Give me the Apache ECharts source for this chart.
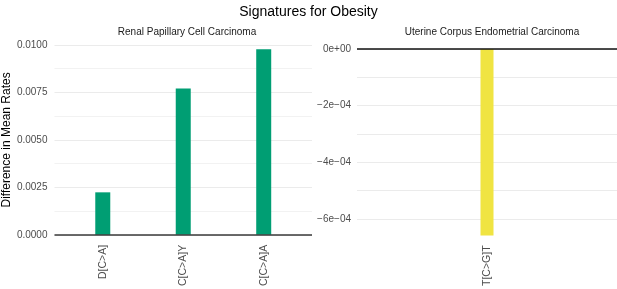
<!DOCTYPE html>
<html>
<head>
<meta charset="utf-8">
<script src="https://cdn.jsdelivr.net/npm/echarts@6/dist/echarts.min.js"></script>
<style>
  html, body { margin: 0; padding: 0; background: #fff; }
  #main { width: 617px; height: 289px; }
</style>
</head>
<body>
<div id="main"></div>
<script>
// data
var renalCats = ['D[C>A]', 'C[C>A]Y', 'C[C>A]A'];
var renalVals = [0.00224, 0.00771, 0.00977];
var uterineCats = ['T[C>G]T'];
var uterineVals = [-0.000659];
var leftTicks = [0, 0.0025, 0.005, 0.0075, 0.01];

var FONT = '"Liberation Sans", Arial, sans-serif';
var GRID_COLOR = '#ebebeb';

// R style scientific labels, e.g. -2e-04
function sciLabel(v) {
  if (Math.abs(v) < 1e-12) return '0e+00';
  var e = Math.floor(Math.log10(Math.abs(v)) + 1e-9);
  var m = Math.round(v / Math.pow(10, e));
  var sign = m < 0 ? '\u2212' : '';
  var es = (e < 0 ? '\u2212' : '+') + (Math.abs(e) < 10 ? '0' : '') + Math.abs(e);
  return sign + Math.abs(m) + 'e' + es;
}

var renalData = renalVals.map(function (v, i) { return [i + 1, v]; });

var chart = echarts.init(document.getElementById('main'));
var option = {
  animation: false,
  textStyle: { fontFamily: FONT },
  title: [
    {
      text: 'Signatures for Obesity',
      left: 'center', top: 0,
      textStyle: { fontSize: 14, fontWeight: 'normal', color: '#000', fontFamily: FONT }
    },
    {
      text: 'Renal Papillary Cell Carcinoma',
      left: 182, top: 22, textAlign: 'center',
      textStyle: { fontSize: 10, fontWeight: 'normal', color: '#1a1a1a', fontFamily: FONT }
    },
    {
      text: 'Uterine Corpus Endometrial Carcinoma',
      left: 487, top: 22, textAlign: 'center',
      textStyle: { fontSize: 10, fontWeight: 'normal', color: '#1a1a1a', fontFamily: FONT }
    }
  ],
  grid: [
    { left: 52, width: 260, top: 45, bottom: 53 },
    { left: 357, right: 0, top: 49, bottom: 53 }
  ],
  xAxis: [
    {
      gridIndex: 0,
      type: 'value',
      min: 0.4, max: 3.6,
      minInterval: 1, maxInterval: 1,
      axisLine: { show: false },
      axisTick: { show: false },
      splitLine: { show: false },
      axisLabel: {
        rotate: 90, fontSize: 10.5, color: '#4d4d4d', margin: 10,
        showMinLabel: false, showMaxLabel: false,
        formatter: function (v) {
          var i = Math.round(v);
          return Math.abs(v - i) < 1e-6 && renalCats[i - 1] ? renalCats[i - 1] : '';
        }
      }
    },
    {
      gridIndex: 1,
      type: 'category',
      data: uterineCats,
      axisLine: { show: false },
      axisTick: { show: false },
      axisLabel: { rotate: 90, fontSize: 10.5, color: '#4d4d4d', margin: 10 }
    }
  ],
  yAxis: [
    {
      gridIndex: 0,
      type: 'value',
      min: leftTicks[0], max: leftTicks[leftTicks.length - 1],
      interval: 0.0025,
      name: 'Difference in Mean Rates',
      nameLocation: 'middle',
      nameGap: 40,
      nameTextStyle: { fontSize: 12, color: '#000' },
      axisLine: { show: false },
      axisTick: { show: false },
      axisLabel: {
        fontSize: 10, color: '#4d4d4d', margin: 7,
        formatter: function (v) { return v.toFixed(4); }
      },
      splitLine: { lineStyle: { color: GRID_COLOR, width: 1 } },
      minorTick: { show: false, splitNumber: 2 },
      minorSplitLine: { show: true, lineStyle: { color: '#f2f2f2', width: 1 } }
    },
    {
      gridIndex: 1,
      type: 'value',
      min: uterineVals[0], max: 0,
      minInterval: 0.0001, maxInterval: 0.0001,
      axisLine: { show: false },
      axisTick: { show: false },
      axisLabel: {
        fontSize: 10, color: '#4d4d4d', margin: 6,
        showMinLabel: false,
        formatter: function (v) {
          var k = Math.round(v / 0.0001);
          if (Math.abs(v / 0.0001 - k) > 1e-6 || k % 2 !== 0) return '';
          return sciLabel(k * 0.0001);
        }
      },
      splitLine: { showMinLine: false, lineStyle: { color: GRID_COLOR, width: 1 } }
    }
  ],
  series: [
    {
      name: 'Renal Papillary Cell Carcinoma',
      type: 'bar',
      xAxisIndex: 0, yAxisIndex: 0,
      barWidth: 15,
      itemStyle: { color: '#009E73' },
      data: renalData,
      markLine: {
        silent: true, symbol: 'none',
        label: { show: false },
        lineStyle: { color: '#3a3a3a', type: 'solid', width: 1.5 },
        data: [{ yAxis: 0 }]
      }
    },
    {
      name: 'Uterine Corpus Endometrial Carcinoma',
      type: 'bar',
      xAxisIndex: 1, yAxisIndex: 1,
      barWidth: 13,
      itemStyle: { color: '#F0E442' },
      data: uterineVals,
      markLine: {
        silent: true, symbol: 'none',
        label: { show: false },
        lineStyle: { color: '#111', type: 'solid', width: 1.5 },
        data: [{ yAxis: 0 }]
      }
    }
  ]
};
chart.setOption(option);

window.addEventListener('resize', function () {
  chart.resize();
});
</script>
</body>
</html>
